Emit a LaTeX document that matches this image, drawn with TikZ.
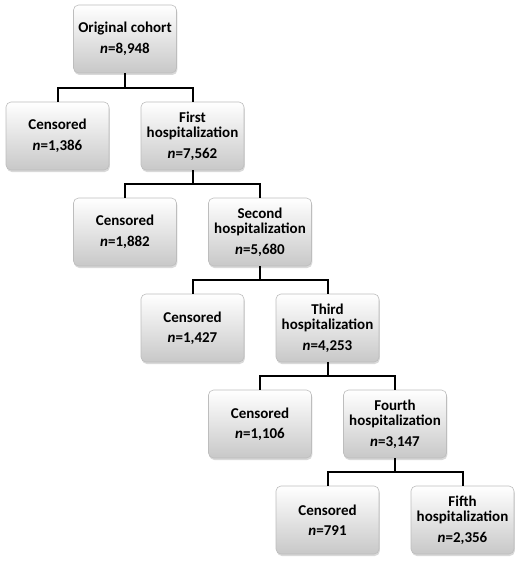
\documentclass[tikz,border=0pt]{standalone}
\usepackage{fontspec}
\setmainfont{Carlito}
\usetikzlibrary{shadows}

\definecolor{boxedge}{HTML}{BDBDBD}
\definecolor{boxbottom}{HTML}{C8C8C8}

\tikzset{
  flowbox/.style={draw=boxedge, line width=0.6pt, rounded corners=5pt,
    top color=white, bottom color=boxbottom,
    drop shadow={opacity=0.3, shadow xshift=0.8pt, shadow yshift=-2pt},
    minimum width=103pt, minimum height=68pt, inner sep=0pt,
    align=center, font=\bfseries\fontsize{15}{15.5}\selectfont},
  link/.style={line width=2pt, black}
}

\begin{document}
\begin{tikzpicture}[x=1pt, y=-1pt]
            \useasboundingbox (0, 0) rectangle (520, 564);
            % boxes
            \node[flowbox] (orig) at (125, 39) {Original cohort\\[5pt]\textit{n}=8,948};
            \node[flowbox] (cens1) at (57.5, 136) {Censored\\[5pt]\textit{n}=1,386};
            \node[flowbox] (hosp1) at (192.5, 136) {First\\hospitalization\\[5pt]\textit{n}=7,562};
            \node[flowbox] (cens2) at (125, 232) {Censored\\[5pt]\textit{n}=1,882};
            \node[flowbox] (hosp2) at (260, 232) {Second\\hospitalization\\[5pt]\textit{n}=5,680};
            \node[flowbox] (cens3) at (192.5, 328) {Censored\\[5pt]\textit{n}=1,427};
            \node[flowbox] (hosp3) at (327.5, 328) {Third\\hospitalization\\[5pt]\textit{n}=4,253};
            \node[flowbox] (cens4) at (260, 424) {Censored\\[5pt]\textit{n}=1,106};
            \node[flowbox] (hosp4) at (395, 424) {Fourth\\hospitalization\\[5pt]\textit{n}=3,147};
            \node[flowbox] (cens5) at (327.5, 520) {Censored\\[5pt]\textit{n}=791};
            \node[flowbox] (hosp5) at (462.5, 520) {Fifth\\hospitalization\\[5pt]\textit{n}=2,356};
            % branches
            \draw[link] (orig.south) -- ++(0, 15) -| (cens1.north);
            \draw[link] (orig.south) -- ++(0, 15) -| (hosp1.north);
            \draw[link] (hosp1.south) -- ++(0, 14) -| (cens2.north);
            \draw[link] (hosp1.south) -- ++(0, 14) -| (hosp2.north);
            \draw[link] (hosp2.south) -- ++(0, 14) -| (cens3.north);
            \draw[link] (hosp2.south) -- ++(0, 14) -| (hosp3.north);
            \draw[link] (hosp3.south) -- ++(0, 14) -| (cens4.north);
            \draw[link] (hosp3.south) -- ++(0, 14) -| (hosp4.north);
            \draw[link] (hosp4.south) -- ++(0, 14) -| (cens5.north);
            \draw[link] (hosp4.south) -- ++(0, 14) -| (hosp5.north);
\end{tikzpicture}
\end{document}
